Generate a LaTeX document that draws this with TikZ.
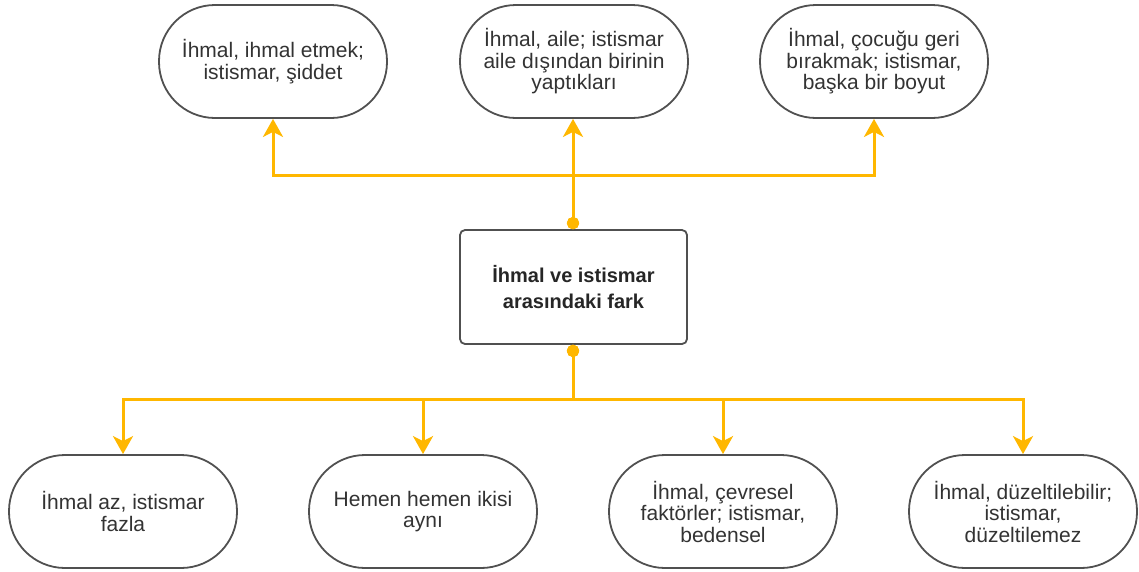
\documentclass[tikz,border=0pt]{standalone}
\usepackage{fontspec}
\setmainfont{Liberation Sans}
\usetikzlibrary{arrows.meta}
\definecolor{conn}{RGB}{255,183,0}
\definecolor{bord}{RGB}{80,80,80}
\definecolor{txt}{RGB}{51,51,51}
\tikzset{
  pill/.style={draw=bord, line width=1.8pt, rounded corners=56pt, fill=white,
    minimum width=228pt, minimum height=113pt, inner sep=0pt, align=center,
    text=txt, font=\fontsize{21}{21.5}\selectfont},
  mainbox/.style={draw=bord, line width=1.8pt, rounded corners=5pt, fill=white,
    minimum width=227pt, minimum height=114pt, inner sep=0pt, align=center,
    text=black!85, font=\bfseries\fontsize{20}{26.5}\selectfont},
  link/.style={draw=conn, line width=3pt,
    arrows={Circle[length=12pt,width=12pt]-Stealth[length=18pt,width=20pt,inset=5pt]}},
}
\begin{document}
\begin{tikzpicture}[x=1pt,y=-1pt]
\useasboundingbox (0,0) rectangle (1139,571);
\node[mainbox] (c) at (573.5,287) {İhmal ve istismar\\arasındaki fark};
\node[pill] (t1) at (273,61.5) {İhmal, ihmal etmek;\\istismar, şiddet};
\node[pill] (t2) at (574,61.5) {İhmal, aile; istismar\\aile dışından birinin\\yaptıkları};
\node[pill] (t3) at (874,61.5) {İhmal, çocuğu geri\\bırakmak; istismar,\\başka bir boyut};
\node[pill] (b1) at (123,511.5) {İhmal az, istismar\\fazla};
\node[pill] (b2) at (423,511.5) {Hemen hemen ikisi\\aynı};
\node[pill] (b3) at (723,511.5) {İhmal, çevresel\\faktörler; istismar,\\bedensel};
\node[pill] (b4) at (1023,511.5) {İhmal, düzeltilebilir;\\istismar,\\düzeltilemez};
\coordinate (tj) at (573,175);
\coordinate (bj) at (573,399);
\draw[link] (c.north -| tj) -- (tj) -| (t1.south);
\draw[link] (c.north -| tj) -- (tj) -| (t3.south);
\draw[link] (c.north -| tj) -- (t2.south -| tj);
\draw[link] (c.south -| bj) -- (bj) -| (b1.north);
\draw[link] (c.south -| bj) -- (bj) -| (b2.north);
\draw[link] (c.south -| bj) -- (bj) -| (b3.north);
\draw[link] (c.south -| bj) -- (bj) -| (b4.north);
\end{tikzpicture}
\end{document}
